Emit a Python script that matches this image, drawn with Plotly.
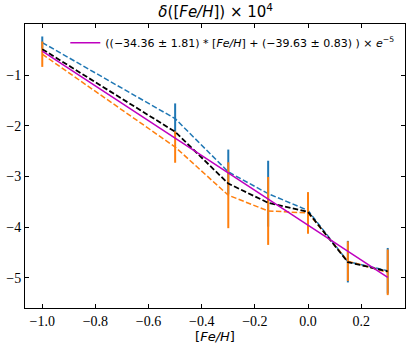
import plotly.graph_objects as go

# [Fe/H] bins
feh = [-1.0, -0.5, -0.3, -0.15, 0.0, 0.15, 0.3]

# delta([Fe/H]) x 1e4
mean_vals = [-0.49, -2.12, -3.14, -3.52, -3.70, -4.69, -4.87]
upper_vals = [-0.36, -1.86, -2.91, -3.34, -3.67, -4.68, -4.86]
upper_err = [0.12, 0.30, 0.44, 0.65, 0.35, 0.41, 0.45]
lower_vals = [-0.59, -2.42, -3.37, -3.68, -3.72, -4.67, -4.89]
lower_err = [0.25, 0.31, 0.65, 0.67, 0.41, 0.39, 0.45]
fit_vals = [-0.53, -2.25, -2.94, -3.45, -3.96, -4.48, -4.99]

xticks = [-1.0, -0.8, -0.6, -0.4, -0.2, 0.0, 0.2]
yticks = [-5, -4, -3, -2, -1]

fit_label = ('((−34.36 ± 1.81) * [<i>Fe/H</i>] + (−39.63 ± 0.83) ) '
             '× <i>e</i><sup>−5</sup>')

blue = '#1f77b4'
orange = '#ff7f0e'
dash = '5.5px,2.4px'

fig = go.Figure()

fig.add_trace(go.Scatter(x=feh, y=upper_vals, mode='lines',
                         line=dict(color=blue, width=1.5, dash=dash),
                         error_y=dict(type='data', array=upper_err, color=blue,
                                      thickness=2, width=0),
                         showlegend=False))
fig.add_trace(go.Scatter(x=feh, y=lower_vals, mode='lines',
                         line=dict(color=orange, width=1.5, dash=dash),
                         error_y=dict(type='data', array=lower_err, color=orange,
                                      thickness=2, width=0),
                         showlegend=False))
fig.add_trace(go.Scatter(x=feh, y=mean_vals, mode='lines',
                         line=dict(color='black', width=1.8, dash=dash),
                         showlegend=False))
fig.add_trace(go.Scatter(x=feh, y=fit_vals, mode='lines',
                         line=dict(color='#bf00bf', width=1.5),
                         name=fit_label))

axis_common = dict(showline=True, linecolor='black', linewidth=1,
                   mirror='ticks', ticks='inside', ticklen=4, tickwidth=1,
                   tickcolor='black', showgrid=False, zeroline=False,
                   tickfont=dict(family='Liberation Serif', size=14,
                                 color='black'))

fig.update_xaxes(range=[-1.065, 0.365], tickvals=xticks, tickformat='.1f',
                 title=dict(text='[<i>Fe/H</i>]', standoff=2,
                            font=dict(family='DejaVu Sans', size=13,
                                      color='black')),
                 **axis_common)
fig.update_yaxes(range=[-5.594, 0.006], tickvals=yticks, **axis_common)

fig.update_layout(
    width=407, height=344,
    margin=dict(l=25, r=2, t=24, b=36, autoexpand=False),
    paper_bgcolor='white', plot_bgcolor='white',
    font=dict(family='DejaVu Sans', color='black'),
    title=dict(text='<i>δ</i>([<i>Fe/H</i>]) × 10<sup>4</sup>',
               x=0.53, xanchor='center', y=0.965, yanchor='middle',
               font=dict(size=15)),
    legend=dict(x=0.985, xanchor='right', y=0.985, yanchor='top',
                bgcolor='rgba(0,0,0,0)', itemwidth=30,
                font=dict(size=11)),
)

fig.write_html('out.html', config={'displayModeBar': False},
               post_script="document.body.style.margin='0';")
